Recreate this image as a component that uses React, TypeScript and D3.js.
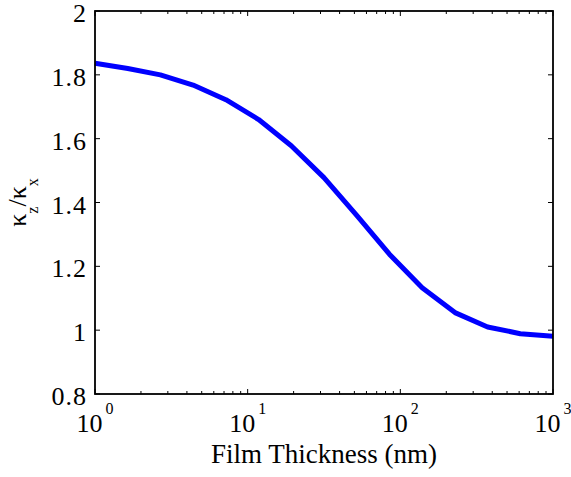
import React from 'react';
import * as d3 from 'd3';

// film thickness (nm) and anisotropy ratio
const thickness = [1, 1.64, 2.68, 4.39, 7.2, 11.8, 19.3, 31.6, 51.8, 84.8, 139, 228, 373, 611, 1000];
const ratio = [1.836, 1.82, 1.8, 1.768, 1.722, 1.66, 1.578, 1.478, 1.36, 1.238, 1.133, 1.055, 1.01, 0.989, 0.981];
const yTicks = [0.8, 1, 1.2, 1.4, 1.6, 1.8, 2];
const xDecades = [1, 10, 100, 1000];
const xExponents = ['0', '1', '2', '3'];

const W = 571;
const H = 477;
const margin = { top: 11, right: 18, bottom: 83, left: 95 };
const font = 'Liberation Serif';

const App = () => {
  const x0 = margin.left;
  const x1 = W - margin.right;
  const y0 = margin.top;
  const y1 = H - margin.bottom;

  const xScale = d3.scaleLog().domain([1, 1000]).range([x0, x1]);
  const yScale = d3.scaleLinear().domain([0.8, 2]).range([y1, y0]);

  const line = d3
    .line<number>()
    .x((_, i) => xScale(thickness[i]))
    .y(d => yScale(d));

  // minor ticks 2..9 in each decade
  const minor: number[] = [];
  xDecades.slice(0, 3).forEach(d => {
    for (let k = 2; k <= 9; k++) minor.push(d * k);
  });

  const major = 5;
  const small = 3;

  return (
    <svg width={W} height={H} style={{ position: 'absolute', left: 0, top: 0, background: '#fff' }}>
      <path d={line(ratio) || ''} fill="none" stroke="#0000ff" strokeWidth={5} strokeLinejoin="round" />

      {/* y ticks, left and right */}
      {yTicks.map(t => (
        <g key={'y' + t}>
          <line x1={x0} x2={x0 + major} y1={yScale(t)} y2={yScale(t)} stroke="#000" strokeWidth={1} />
          <line x1={x1} x2={x1 - major} y1={yScale(t)} y2={yScale(t)} stroke="#000" strokeWidth={1} />
          <text x={x0 - 8} y={yScale(t) + 11} textAnchor="end" fontFamily={font} fontSize={26} letterSpacing={1}>
            {String(t)}
          </text>
        </g>
      ))}

      {/* x ticks, bottom and top */}
      {xDecades.map((t, i) => (
        <g key={'x' + t}>
          <line x1={xScale(t)} x2={xScale(t)} y1={y1} y2={y1 - major} stroke="#000" strokeWidth={1} />
          <line x1={xScale(t)} x2={xScale(t)} y1={y0} y2={y0 + major} stroke="#000" strokeWidth={1} />
          <text x={xScale(t)} y={y1 + 38} textAnchor="middle" fontFamily={font} fontSize={26}>
            10
            <tspan fontSize={16} dx={3} dy={-18}>{xExponents[i]}</tspan>
          </text>
        </g>
      ))}
      {minor.map(t => (
        <g key={'m' + t}>
          <line x1={xScale(t)} x2={xScale(t)} y1={y1} y2={y1 - small} stroke="#000" strokeWidth={1} />
          <line x1={xScale(t)} x2={xScale(t)} y1={y0} y2={y0 + small} stroke="#000" strokeWidth={1} />
        </g>
      ))}

      {/* frame */}
      <rect x={x0} y={y0} width={x1 - x0} height={y1 - y0} fill="none" stroke="#000" strokeWidth={1.8} />

      <text x={(x0 + x1) / 2} y={463} textAnchor="middle" fontFamily={font} fontSize={27}>
        Film Thickness (nm)
      </text>

      <text
        transform={`translate(26, ${(y0 + y1) / 2}) rotate(-90)`}
        textAnchor="middle"
        fontFamily={font}
        fontSize={26}
      >
        κ
        <tspan fontSize={16} dy={12}>z</tspan>
        <tspan dy={-12}>/κ</tspan>
        <tspan fontSize={16} dy={12}>x</tspan>
      </text>
    </svg>
  );
};

export default App;
